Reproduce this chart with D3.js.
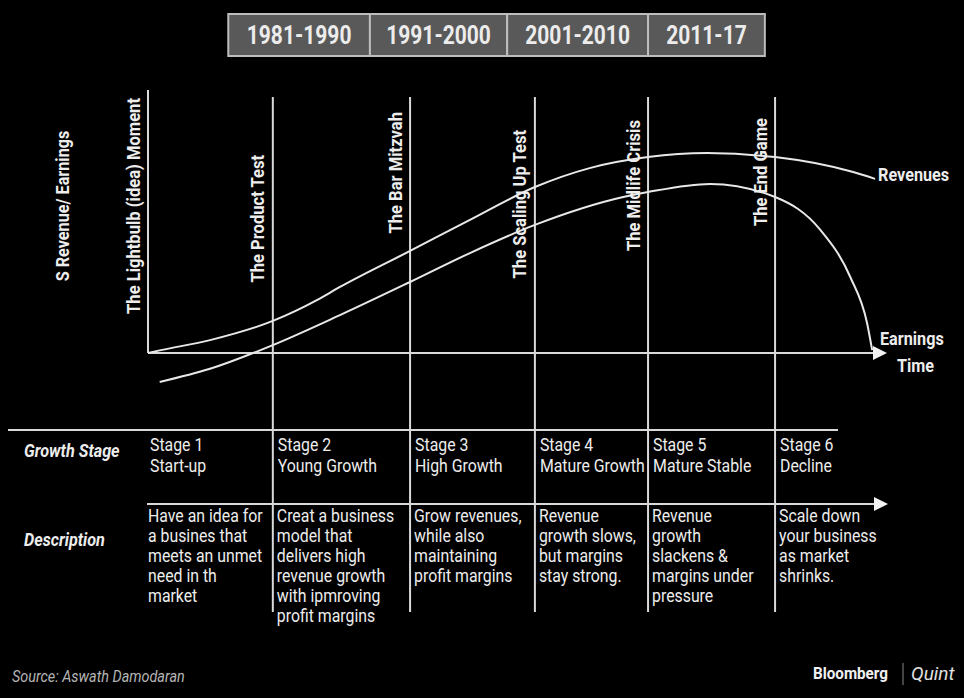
<!DOCTYPE html>
<html>
<head>
<meta charset="utf-8">
<script src="https://cdn.jsdelivr.net/npm/d3@7"></script>
<style>
  html, body { margin: 0; padding: 0; background: #000; }
  svg { display: block; }
  text { font-family: Roboto, "Noto Sans", sans-serif; }
</style>
</head>
<body>
<svg id="chart" width="964" height="698"></svg>
<script>
// ---------------- DATA ----------------
const periods = ["1981-1990", "1991-2000", "2001-2010", "2011-17"];
const periodBounds = [11.0, 30.4, 49.2, 68.5, 84.5];          // time units

const milestones = ["The Lightbulb (idea) Moment", "The Product Test", "The Bar Mitzvah",
                    "The Scaling Up Test", "The Midlife Crisis", "The End Game"];
const stageBounds = [0, 17.1, 35.9, 53.0, 68.5, 85.9];          // time units

const stageNumbers = ["Stage 1", "Stage 2", "Stage 3", "Stage 4", "Stage 5", "Stage 6"];
const stageNames = ["Start-up", "Young Growth", "High Growth", "Mature Growth", "Mature Stable", "Decline"];
const stageDescriptions = [
  ["Have an idea for", "a busines that", "meets an unmet", "need in th", "market"],
  ["Creat a business", "model that", "delivers high", "revenue growth", "with ipmroving", "profit margins"],
  ["Grow revenues,", "while also", "maintaining", "profit margins"],
  ["Revenue", "growth slows,", "but margins", "stay strong."],
  ["Revenue", "growth", "slackens &", "margins under", "pressure"],
  ["Scale down", "your business", "as market", "shrinks."]
];

// curves: time units (0-100) / value units (0-100)
const revenueT = [0, 1.6, 8.5, 17.1, 23.2, 26.3, 35.9, 44.1, 53.0, 60.5, 68.5, 76.6, 85.9, 96.6, 99.6];
const revenueV = [0, 1.0, 4.9, 12.2, 20.2, 25.1, 38.8, 50.6, 63.1, 70.3, 74.5, 76.0, 74.5, 68.8, 66.2];
const earningsT = [1.6, 8.5, 17.1, 26.3, 35.9, 44.1, 53.0, 65.1, 68.5, 77.0, 85.9, 92.1, 96.2, 98.5, 99.2];
const earningsV = [-11.0, -6.0, 3.0, 14.4, 27.0, 38.0, 48.7, 59.3, 61.2, 64.3, 59.3, 46.8, 28.9, 11.4, 1.1];

// ---------------- LAYOUT ----------------
const W = 964, H = 698;
const axisY = 353, axisTop = 90;
const x = d3.scaleLinear().domain([0, 100]).range([148, 878]);
const y = d3.scaleLinear().domain([0, 100]).range([axisY, axisTop]);
const milestoneLabelTop = [98, 155, 112, 130, 120, 118];
const lineColor = "#d9d9d9";
const textColor = "#ededed";

const svg = d3.select("#chart");
svg.append("rect").attr("width", W).attr("height", H).attr("fill", "#000");

// condense helper (narrow-font look)
function condense(sel, f) {
  sel.each(function () {
    const len = this.getComputedTextLength();
    if (len > 0) {
      d3.select(this).attr("textLength", (len * f).toFixed(1)).attr("lengthAdjust", "spacingAndGlyphs");
    }
  });
}

// ---------------- HEADER PERIODS ----------------
const hdr = svg.append("g");
periods.forEach((p, i) => {
  const x0 = x(periodBounds[i]), x1 = x(periodBounds[i + 1]);
  hdr.append("rect").attr("x", x0).attr("y", 14).attr("width", x1 - x0).attr("height", 42)
    .attr("fill", "#595959").attr("stroke", "#bdbdbd").attr("stroke-width", 2);
});
periods.forEach((p, i) => {
  const x0 = x(periodBounds[i]), x1 = x(periodBounds[i + 1]);
  hdr.append("text").attr("x", (x0 + x1) / 2).attr("y", 44).attr("text-anchor", "middle")
    .attr("font-size", 25).attr("font-weight", 700).attr("fill", "#ececec").text(p)
    .call(condense, 0.84);
});

// ---------------- AXES ----------------
svg.append("line").attr("x1", x(0)).attr("x2", x(0)).attr("y1", axisTop).attr("y2", axisY)
  .attr("stroke", lineColor).attr("stroke-width", 2);
svg.append("g").selectAll("line").data(stageBounds.slice(1)).join("line")
  .attr("x1", d => x(d)).attr("x2", d => x(d)).attr("y1", 97).attr("y2", 612)
  .attr("stroke", lineColor).attr("stroke-width", 2);
svg.append("line").attr("x1", x(0)).attr("x2", x(100) - 4).attr("y1", axisY).attr("y2", axisY)
  .attr("stroke", lineColor).attr("stroke-width", 2);
svg.append("path")
  .attr("d", `M${x(100) - 5},${axisY - 7} L${x(100) + 9},${axisY} L${x(100) - 5},${axisY + 7} Z`)
  .attr("fill", "#f2f2f2");

// ---------------- CURVES ----------------
const lineGen = d3.line().x(d => x(d[0])).y(d => y(d[1])).curve(d3.curveMonotoneX);
svg.append("path").datum(revenueT.map((t, i) => [t, revenueV[i]])).attr("d", lineGen)
  .attr("fill", "none").attr("stroke", "#e8e8e8").attr("stroke-width", 2);
svg.append("path").datum(earningsT.map((t, i) => [t, earningsV[i]])).attr("d", lineGen)
  .attr("fill", "none").attr("stroke", "#e8e8e8").attr("stroke-width", 2);

const boldLbl = (tx, ty, s) => svg.append("text").attr("x", tx).attr("y", ty)
  .attr("dominant-baseline", "central").attr("font-size", 18).attr("font-weight", 700)
  .attr("fill", textColor).text(s).call(condense, 0.9);
boldLbl(x(revenueT[revenueT.length - 1]) + 3, y(revenueV[revenueV.length - 1]) - 4, "Revenues");
boldLbl(880, 338, "Earnings");
boldLbl(897, 365, "Time");

svg.append("text").attr("transform", `translate(62,206) rotate(-90)`)
  .attr("text-anchor", "middle").attr("dominant-baseline", "central")
  .attr("font-size", 18).attr("font-weight", 700).attr("fill", textColor)
  .text("S Revenue/ Earnings").call(condense, 0.9);

milestones.forEach((m, i) => {
  svg.append("text")
    .attr("transform", `translate(${x(stageBounds[i]) - 15},${milestoneLabelTop[i]}) rotate(-90)`)
    .attr("text-anchor", "end").attr("dominant-baseline", "central")
    .attr("font-size", 18).attr("font-weight", 700).attr("fill", textColor)
    .text(m).call(condense, 0.92);
});

// ---------------- TABLE ----------------
svg.append("line").attr("x1", 8).attr("x2", 838).attr("y1", 430).attr("y2", 430)
  .attr("stroke", lineColor).attr("stroke-width", 2);
svg.append("line").attr("x1", 147).attr("x2", x(100) - 3).attr("y1", 504).attr("y2", 504)
  .attr("stroke", lineColor).attr("stroke-width", 2);
svg.append("path")
  .attr("d", `M${x(100) - 4},${504 - 7} L${x(100) + 10},504 L${x(100) - 4},${504 + 7} Z`)
  .attr("fill", "#f2f2f2");

const rowHdr = (ty, s) => svg.append("text").attr("x", 24).attr("y", ty)
  .attr("font-size", 18).attr("font-weight", 700).attr("font-style", "italic")
  .attr("fill", textColor).text(s).call(condense, 0.9);
rowHdr(457, "Growth Stage");
rowHdr(546, "Description");

stageNumbers.forEach((s, i) => {
  const tx = x(stageBounds[i]) + (i === 0 ? 2 : 5);
  const t = svg.append("text").attr("font-size", 18).attr("fill", textColor);
  t.append("tspan").attr("x", tx).attr("y", 451).text(s);
  t.append("tspan").attr("x", tx).attr("y", 472).text(stageNames[i]);
  t.selectAll("tspan").call(condense, 0.88);
  const dx = x(stageBounds[i]) + (i === 0 ? 0 : 4);
  const d = svg.append("text").attr("font-size", 18).attr("fill", textColor);
  stageDescriptions[i].forEach((line, j) => {
    d.append("tspan").attr("x", dx).attr("y", 522 + j * 20).text(line);
  });
  d.selectAll("tspan").call(condense, 0.88);
});

// ---------------- FOOTER ----------------
svg.append("text").attr("x", 12).attr("y", 682).attr("font-size", 16).attr("font-style", "italic")
  .attr("fill", "#b5b5b5").text("Source: Aswath Damodaran").call(condense, 0.9);
svg.append("text").attr("x", 813).attr("y", 679).attr("font-size", 16).attr("font-weight", 700)
  .attr("fill", "#f0f0f0").text("Bloomberg").call(condense, 0.95);
svg.append("line").attr("x1", 903).attr("x2", 903).attr("y1", 663).attr("y2", 685)
  .attr("stroke", "#888").attr("stroke-width", 1);
svg.append("text").attr("x", 911).attr("y", 680).attr("font-size", 19).attr("font-style", "italic")
  .attr("font-family", "'Liberation Serif', 'DejaVu Serif', serif")
  .attr("fill", "#e0e0e0").text("Quint");
</script>
</body>
</html>
